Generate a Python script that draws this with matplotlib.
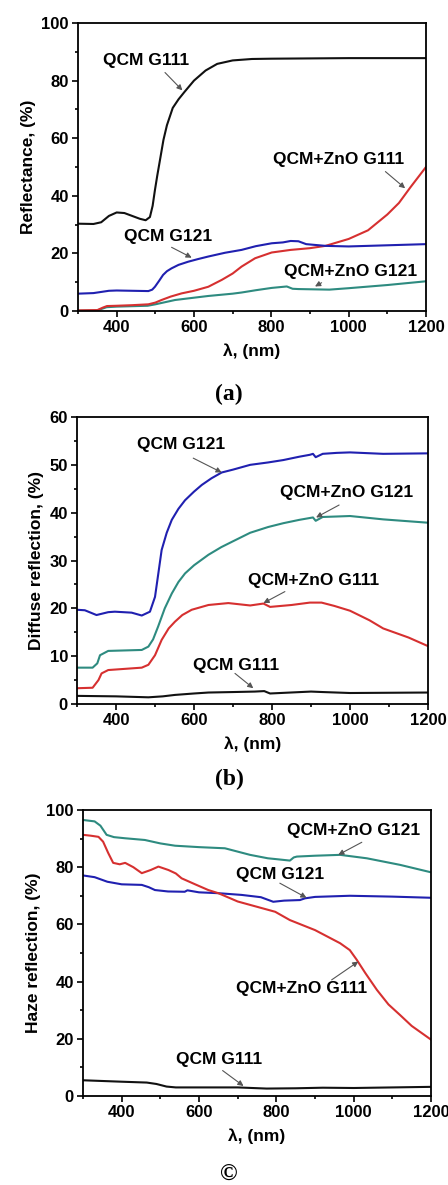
import matplotlib
matplotlib.use("Agg")
import matplotlib.pyplot as plt
from matplotlib.ticker import MultipleLocator

plt.rcParams['font.family'] = ['Liberation Sans', 'DejaVu Sans']
plt.rcParams['font.weight'] = 'bold'

# ---- (a) Reflectance ----
wl_a_g111 = [300, 340, 360, 380, 400, 420, 440, 460, 475, 486, 493, 499, 505, 512, 521, 530, 545, 560, 575, 600, 630, 660, 700, 750, 800, 900, 1000, 1200]
r_a_g111 = [30.3, 30.2, 30.8, 33.0, 34.2, 34.0, 33.0, 32.0, 31.5, 32.6, 36.5, 42.0, 47.0, 52.4, 59.4, 64.5, 70.5, 73.5, 76.0, 80.0, 83.5, 85.8, 87.0, 87.5, 87.6, 87.7, 87.8, 87.8]

wl_a_g121 = [300, 340, 380, 400, 440, 482, 492, 499, 510, 520, 530, 542, 560, 585, 610, 637, 680, 723, 760, 801, 830, 850, 870, 890, 940, 1000, 1100, 1200]
r_a_g121 = [6.0, 6.2, 7.0, 7.1, 7.0, 6.9, 7.4, 8.4, 10.5, 12.5, 13.8, 14.8, 16.0, 17.1, 18.0, 18.9, 20.2, 21.2, 22.5, 23.5, 23.8, 24.3, 24.2, 23.2, 22.6, 22.4, 22.8, 23.2]

wl_a_zno111 = [300, 350, 365, 375, 400, 440, 482, 500, 516, 540, 568, 600, 637, 672, 700, 723, 758, 801, 850, 900, 940, 1000, 1050, 1100, 1130, 1160, 1200]
r_a_zno111 = [0.2, 0.3, 1.2, 1.7, 1.8, 2.0, 2.3, 2.9, 3.8, 5.0, 6.1, 7.0, 8.4, 10.8, 13.0, 15.4, 18.3, 20.3, 21.2, 21.8, 22.6, 25.0, 28.0, 33.5, 37.5, 43.0, 50.0]

wl_a_zno121 = [300, 350, 374, 400, 480, 500, 551, 600, 637, 700, 723, 760, 801, 840, 855, 870, 950, 1000, 1100, 1200]
r_a_zno121 = [0.1, 0.2, 1.3, 1.5, 1.8, 2.3, 3.8, 4.6, 5.2, 6.0, 6.4, 7.2, 8.0, 8.5, 7.7, 7.6, 7.4, 7.9, 9.0, 10.3]

# ---- (b) Diffuse reflection ----
wl_b_g121 = [300, 320, 350, 380, 397, 440, 466, 487, 500, 508, 517, 530, 543, 560, 577, 600, 620, 645, 671, 700, 744, 790, 829, 870, 897, 905, 912, 930, 966, 1000, 1085, 1200]
d_b_g121 = [19.7, 19.6, 18.6, 19.2, 19.3, 19.1, 18.5, 19.3, 22.4, 27.0, 32.2, 35.8, 38.5, 40.8, 42.6, 44.4, 45.8, 47.2, 48.4, 49.0, 50.0, 50.5, 51.0, 51.7, 52.1, 52.3, 51.6, 52.3, 52.5, 52.6, 52.3, 52.4]

wl_b_zno121 = [300, 340, 352, 359, 380, 466, 483, 495, 508, 525, 543, 560, 577, 600, 637, 670, 697, 744, 790, 829, 870, 905, 912, 930, 966, 1000, 1085, 1200]
d_b_zno121 = [7.6, 7.6, 8.5, 10.2, 11.1, 11.3, 12.0, 13.5, 16.2, 20.0, 23.1, 25.5, 27.3, 29.0, 31.2, 32.8, 33.9, 35.8, 37.0, 37.8, 38.5, 39.0, 38.3, 39.1, 39.2, 39.3, 38.6, 37.9]

wl_b_zno111 = [300, 340, 355, 363, 380, 466, 483, 500, 517, 535, 551, 570, 594, 637, 688, 744, 778, 795, 850, 897, 927, 960, 1000, 1050, 1085, 1150, 1200]
d_b_zno111 = [3.3, 3.4, 5.0, 6.4, 7.1, 7.6, 8.2, 10.2, 13.4, 15.8, 17.2, 18.6, 19.7, 20.7, 21.1, 20.6, 21.0, 20.3, 20.7, 21.2, 21.2, 20.5, 19.5, 17.5, 15.8, 13.9, 12.1]

wl_b_g111 = [300, 400, 483, 520, 551, 600, 637, 700, 756, 780, 795, 900, 930, 1000, 1200]
d_b_g111 = [1.7, 1.6, 1.4, 1.6, 1.9, 2.2, 2.4, 2.5, 2.6, 2.7, 2.2, 2.6, 2.5, 2.3, 2.4]

# ---- (c) Haze reflection ----
wl_c_zno121 = [300, 330, 345, 361, 380, 409, 460, 500, 538, 600, 667, 732, 778, 800, 835, 845, 853, 900, 965, 1034, 1120, 1200]
h_c_zno121 = [96.5, 96.0, 94.5, 91.3, 90.5, 90.1, 89.5, 88.3, 87.5, 87.0, 86.6, 84.3, 83.1, 82.8, 82.3, 83.4, 83.7, 84.0, 84.3, 83.1, 80.8, 78.2]

wl_c_zno111 = [300, 320, 340, 352, 365, 378, 395, 409, 430, 452, 475, 495, 521, 540, 555, 590, 624, 650, 700, 797, 835, 900, 965, 990, 1008, 1030, 1060, 1090, 1120, 1150, 1200]
h_c_zno111 = [91.3, 91.0, 90.6, 88.9, 85.0, 81.5, 81.0, 81.5, 80.0, 77.9, 79.0, 80.2, 79.0, 77.8, 76.1, 74.0, 72.0, 70.9, 68.0, 64.4, 61.5, 58.0, 53.4, 51.0, 47.6, 43.0, 37.1, 32.0, 28.3, 24.5, 19.7]

wl_c_g121 = [300, 330, 363, 400, 452, 470, 486, 520, 563, 570, 600, 650, 710, 760, 792, 820, 861, 874, 900, 990, 1100, 1200]
h_c_g121 = [77.1, 76.5, 74.9, 74.0, 73.8, 73.0, 72.0, 71.5, 71.4, 71.9, 71.2, 70.9, 70.3, 69.5, 67.9, 68.3, 68.5, 69.1, 69.6, 70.0, 69.7, 69.3]

wl_c_g111 = [300, 400, 465, 490, 516, 540, 603, 700, 775, 850, 920, 1000, 1200]
h_c_g111 = [5.5, 5.0, 4.7, 4.2, 3.3, 3.0, 3.0, 3.0, 2.6, 2.7, 2.9, 2.8, 3.2]

BLACK = '#111111'
BLUE = '#2020b0'
RED = '#d63030'
TEAL = '#2e8b80'

fig = plt.figure(figsize=(4.48, 11.85), dpi=100)
ax_a = fig.add_axes([0.1741, 0.7376, 0.7768, 0.2430])
ax_b = fig.add_axes([0.1719, 0.4059, 0.7835, 0.2422])
ax_c = fig.add_axes([0.1853, 0.0751, 0.7768, 0.2414])


def style(ax, ymax, ymajor, yminor, ylabel):
    ax.set_xlim(300, 1200)
    ax.set_ylim(0, ymax)
    ax.xaxis.set_major_locator(MultipleLocator(200))
    ax.xaxis.set_minor_locator(MultipleLocator(100))
    ax.yaxis.set_major_locator(MultipleLocator(ymajor))
    ax.yaxis.set_minor_locator(MultipleLocator(yminor))
    ax.set_xticks([400, 600, 800, 1000, 1200])
    ax.tick_params(which='both', direction='out', top=False, right=False,
                   width=1.2, labelsize=12, pad=2)
    ax.tick_params(which='major', length=4.5)
    ax.tick_params(which='minor', length=2.3)
    for s in ax.spines.values():
        s.set_linewidth(1.3)
    for lab in ax.get_xticklabels() + ax.get_yticklabels():
        lab.set_fontweight('bold')
    ax.set_xlabel('λ, (nm)', fontsize=12.5, fontweight='bold', labelpad=6)
    ax.set_ylabel(ylabel, fontsize=12.5, fontweight='bold', labelpad=4)


def note(ax, txt, tpos, start, end):
    ax.text(tpos[0], tpos[1], txt, ha='center', va='center', fontsize=12.5, fontweight='bold')
    ax.annotate('', xy=end, xytext=start,
                arrowprops=dict(arrowstyle='-|>', color='#555555', lw=0.8,
                                mutation_scale=8, shrinkA=0, shrinkB=0))


lw = 1.5
ax_a.plot(wl_a_g111, r_a_g111, color=BLACK, lw=lw)
ax_a.plot(wl_a_zno121, r_a_zno121, color=TEAL, lw=lw)
ax_a.plot(wl_a_zno111, r_a_zno111, color=RED, lw=lw)
ax_a.plot(wl_a_g121, r_a_g121, color=BLUE, lw=lw)
style(ax_a, 100, 20, 10, 'Reflectance, (%)')
note(ax_a, 'QCM G111', (476, 86.8), (525, 82.8), (570, 76.6))
note(ax_a, 'QCM+ZnO G111', (974, 52.7), (1095, 48.4), (1146, 42.6))
note(ax_a, 'QCM G121', (533, 25.8), (542, 22.1), (594, 18.5))
note(ax_a, 'QCM+ZnO G121', (1004, 13.7), (930, 9.8), (913, 8.5))

ax_b.plot(wl_b_g111, d_b_g111, color=BLACK, lw=lw)
ax_b.plot(wl_b_zno111, d_b_zno111, color=RED, lw=lw)
ax_b.plot(wl_b_zno121, d_b_zno121, color=TEAL, lw=lw)
ax_b.plot(wl_b_g121, d_b_g121, color=BLUE, lw=lw)
style(ax_b, 60, 10, 5, 'Diffuse reflection, (%)')
note(ax_b, 'QCM G121', (568, 54.2), (598, 51.4), (671, 48.4))
note(ax_b, 'QCM+ZnO G121', (992, 44.2), (972, 41.6), (913, 39.0))
note(ax_b, 'QCM+ZnO G111', (906, 25.9), (833, 23.5), (778, 21.1))
note(ax_b, 'QCM G111', (707, 8.0), (705, 6.4), (752, 3.3))

ax_c.plot(wl_c_g111, h_c_g111, color=BLACK, lw=lw)
ax_c.plot(wl_c_g121, h_c_g121, color=BLUE, lw=lw)
ax_c.plot(wl_c_zno111, h_c_zno111, color=RED, lw=lw)
ax_c.plot(wl_c_zno121, h_c_zno121, color=TEAL, lw=lw)
style(ax_c, 100, 20, 10, 'Haze reflection, (%)')
note(ax_c, 'QCM+ZnO G121', (999, 92.7), (1021, 88.7), (960, 84.3))
note(ax_c, 'QCM G121', (809, 77.6), (809, 74.4), (878, 69.3))
note(ax_c, 'QCM+ZnO G111', (866, 37.7), (943, 40.6), (1012, 47.0))
note(ax_c, 'QCM G111', (652, 12.8), (661, 8.9), (715, 3.5))

for lbl, ypix in [('(a)', 394), ('(b)', 779), ('©', 1175)]:
    fig.text(229 / 448, 1 - ypix / 1185, lbl, ha='center', va='center',
             fontsize=17, fontweight='bold', family=['Liberation Serif', 'DejaVu Serif'])

fig.savefig('out.png', dpi=100)
